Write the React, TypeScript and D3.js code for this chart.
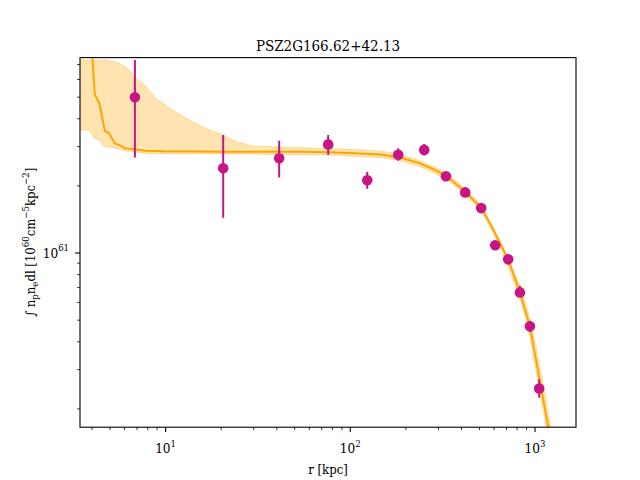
import React from 'react'
import * as d3 from 'd3'

// measured surface-brightness profile (radius in kpc, integrated n_p n_e dl)
const radius = [6.82, 20.5, 41.2, 75.9, 123.5, 181.7, 251.2, 329.4, 419.0, 511.3, 608.8, 716.0, 828.6, 938.5, 1053.6]
const profile = [4.99e61, 2.40e61, 2.66e61, 3.07e61, 2.12e61, 2.76e61, 2.90e61, 2.21e61, 1.87e61, 1.59e61, 1.083e61, 0.937e61, 0.666e61, 0.469e61, 0.247e61]
const profileHi = [7.34e61, 3.38e61, 3.19e61, 3.38e61, 2.31e61, 2.95e61, 3.08e61, 2.31e61, 1.95e61, 1.65e61, 1.128e61, 0.977e61, 0.711e61, 0.497e61, 0.272e61]
const profileLo = [2.68e61, 1.44e61, 2.18e61, 2.75e61, 1.94e61, 2.59e61, 2.74e61, 2.13e61, 1.80e61, 1.52e61, 1.039e61, 0.899e61, 0.635e61, 0.442e61, 0.2245e61]

// best-fit model (median)
const modelR = [3.99, 4.14, 4.37, 4.69, 4.95, 5.31, 5.61, 6.02, 6.76, 7.82, 10, 22.3, 53.4, 77.6, 105.9, 144.6, 185.6, 238.1, 276.6, 329.4, 417.4, 509.4, 577.0, 653.8, 716.0, 828.6, 938.5, 998.8, 1080.4, 1178.9, 1219.6]
const modelV = [8.13e61, 5.11e61, 4.72e61, 3.525e61, 3.44e61, 3.10e61, 3.05e61, 2.95e61, 2.917e61, 2.875e61, 2.858e61, 2.847e61, 2.847e61, 2.829e61, 2.80e61, 2.765e61, 2.681e61, 2.525e61, 2.393e61, 2.226e61, 1.887e61, 1.60e61, 1.335e61, 1.086e61, 0.937e61, 0.666e61, 0.468e61, 0.3524e61, 0.2473e61, 0.1664e61, 0.1435e61]

// credible band edges
const bandHiR = [3.44, 4.75, 4.99, 5.59, 6.23, 7.05, 7.51, 8.86, 10.9, 13.4, 17.2, 19.4, 24.0, 29.7, 41.6, 68.5, 105.9, 144.6, 185.6, 238.1, 329.4, 417.4, 509.4, 653.8, 849.4, 962.1, 1110.6, 1219.6, 1258.0]
const bandHiV = [7.34e61, 7.34e61, 7.26e61, 7.11e61, 6.73e61, 5.97e61, 5.80e61, 4.94e61, 4.38e61, 3.95e61, 3.56e61, 3.45e61, 3.16e61, 3.02e61, 2.99e61, 2.95e61, 2.91e61, 2.87e61, 2.78e61, 2.60e61, 2.30e61, 1.947e61, 1.650e61, 1.120e61, 0.6824e61, 0.4755e61, 0.2532e61, 0.1653e61, 0.1435e61]
const bandLoR = [3.44, 3.86, 4.11, 4.37, 4.65, 5.38, 6.10, 8.22, 22.3, 77.6, 144.6, 185.6, 238.1, 329.4, 417.4, 509.4, 653.8, 813.1, 921.0, 1056.3, 1152.6, 1189.0]
const bandLoV = [3.56e61, 3.56e61, 3.27e61, 3.21e61, 3.00e61, 2.95e61, 2.87e61, 2.79e61, 2.78e61, 2.75e61, 2.68e61, 2.60e61, 2.44e61, 2.16e61, 1.83e61, 1.55e61, 1.053e61, 0.655e61, 0.461e61, 0.243e61, 0.1653e61, 0.1435e61]

const xMajor = [10, 100, 1000]
const xMinor = [4, 5, 6, 7, 8, 9, 20, 30, 40, 50, 60, 70, 80, 90, 200, 300, 400, 500, 600, 700, 800, 900]
const yMajor = [1e61]
const yMinor = [2e60, 3e60, 4e60, 5e60, 6e60, 7e60, 8e60, 9e60, 2e61, 3e61, 4e61, 5e61, 6e61, 7e61]

const W = 640
const H = 480
const left = 80
const right = 576
const top = 57.6
const bottom = 427.2

const ORANGE = '#ffa500'
const MAGENTA = '#c71585'
const FONT = 'DejaVu Serif'

function App () {
  const x = d3.scaleLog().domain([3.44, 1667]).range([left, right])
  const y = d3.scaleLog().domain([1.656e60, 7.52e61]).range([bottom, top])

  const line = d3.line<[number, number]>()
    .x(d => x(d[0]))
    .y(d => y(d[1]))

  const modelPts = modelR.map((r, i) => [r, modelV[i]] as [number, number])
  const bandPts = [
    ...bandHiR.map((r, i) => [r, bandHiV[i]] as [number, number]),
    ...bandLoR.map((r, i) => [r, bandLoV[i]] as [number, number]).reverse()
  ]

  return (
    <svg width={W} height={H} style={{ position: 'absolute', left: 0, top: 0, background: '#fff' }}
      fontFamily={FONT} fontStretch='condensed'>
      <defs>
        <clipPath id='plot-area'>
          <rect x={left} y={top} width={right - left} height={bottom - top} />
        </clipPath>
      </defs>

      <g clipPath='url(#plot-area)'>
        <path d={line(bandPts) + 'Z'} fill={ORANGE} fillOpacity={0.3}
          stroke={ORANGE} strokeOpacity={0.3} strokeWidth={1} />
        <path d={line(modelPts) || ''} fill='none' stroke={ORANGE} strokeWidth={2} strokeLinejoin='round' />

        {radius.map((r, i) => (
          <line key={'e' + i} x1={x(r)} x2={x(r)} y1={y(profileLo[i])} y2={y(profileHi[i])}
            stroke={MAGENTA} strokeWidth={2} />
        ))}
        {radius.map((r, i) => (
          <circle key={'p' + i} cx={x(r)} cy={y(profile[i])} r={5.3} fill={MAGENTA} />
        ))}
      </g>

      {/* axes frame */}
      <rect x={left} y={top} width={right - left} height={bottom - top} fill='none' stroke='#000' strokeWidth={1.1} />

      {/* x ticks */}
      {xMajor.map(t => (
        <g key={'xM' + t}>
          <line x1={x(t)} x2={x(t)} y1={bottom} y2={bottom + 4.9} stroke='#000' strokeWidth={1.1} />
          <text x={x(t)} y={453} fontSize={13.5} textAnchor='middle'>
            10<tspan fontSize={9.5} dy={-6.5}>{Math.round(Math.log10(t))}</tspan>
          </text>
        </g>
      ))}
      {xMinor.map(t => (
        <line key={'xm' + t} x1={x(t)} x2={x(t)} y1={bottom} y2={bottom + 2.8} stroke='#000' strokeWidth={0.8} />
      ))}

      {/* y ticks */}
      {yMajor.map(t => (
        <g key={'yM' + t}>
          <line x1={left} x2={left - 4.9} y1={y(t)} y2={y(t)} stroke='#000' strokeWidth={1.1} />
          <text x={69} y={y(t) + 4.5} fontSize={13.5} textAnchor='end'>
            10<tspan fontSize={9.5} dy={-6.5}>{Math.round(Math.log10(t))}</tspan>
          </text>
        </g>
      ))}
      {yMinor.map(t => (
        <line key={'ym' + t} x1={left} x2={left - 2.8} y1={y(t)} y2={y(t)} stroke='#000' strokeWidth={0.8} />
      ))}

      <text x={(left + right) / 2} y={51} fontSize={15} textAnchor='middle'>PSZ2G166.62+42.13</text>
      <text x={(left + right) / 2} y={474} fontSize={13} textAnchor='middle'>r [kpc]</text>

      <text transform={`translate(35, ${(top + bottom) / 2}) rotate(-90)`} fontSize={13} textAnchor='middle'>
        ∫ n<tspan fontSize={9.5} dy={3}>p</tspan><tspan dy={-3}>n</tspan><tspan fontSize={9.5} dy={3}>e</tspan>
        <tspan dy={-3}>dl [10</tspan><tspan fontSize={9.5} dy={-6}>60</tspan>
        <tspan dy={6}>cm</tspan><tspan fontSize={9.5} dy={-6}>−5</tspan>
        <tspan dy={6}>kpc</tspan><tspan fontSize={9.5} dy={-6}>−2</tspan><tspan dy={6}>]</tspan>
      </text>
    </svg>
  )
}

export default App
